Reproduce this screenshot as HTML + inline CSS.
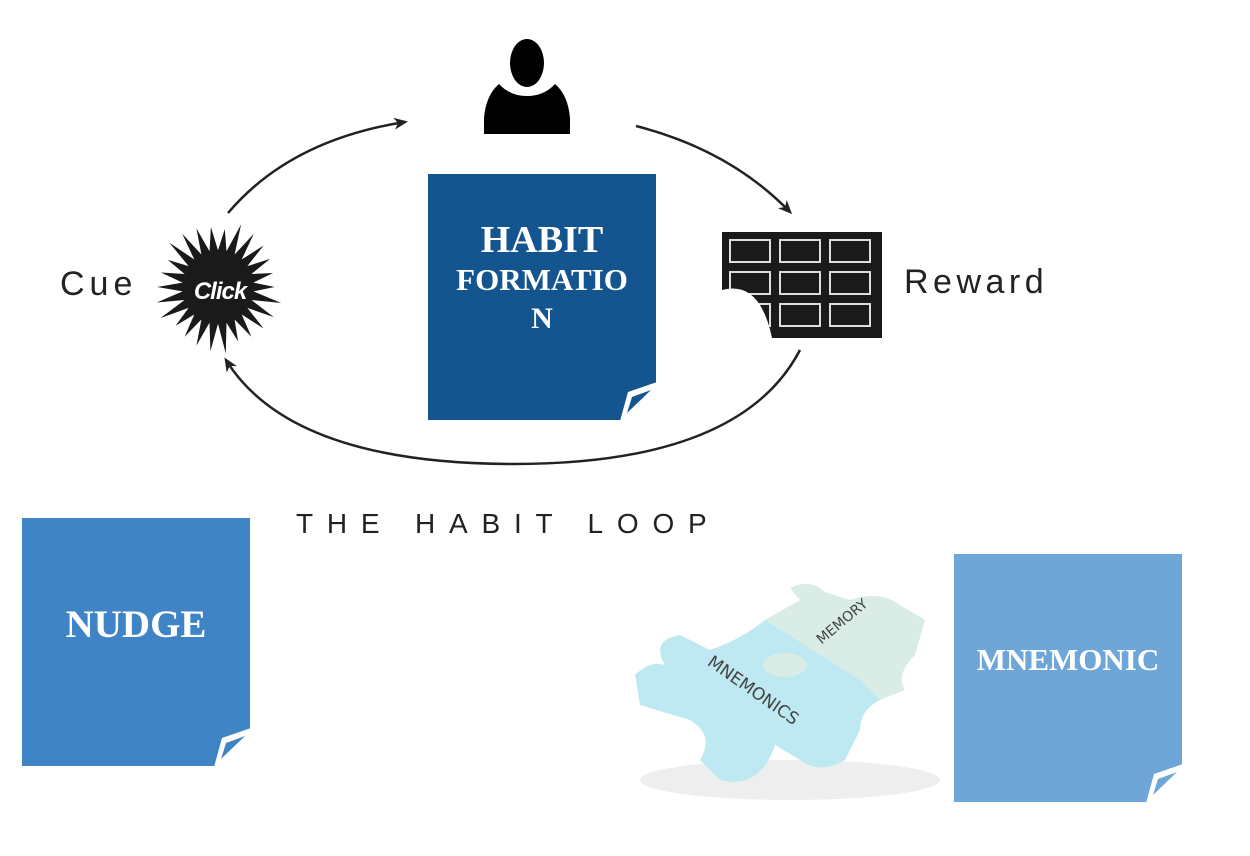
<!DOCTYPE html>
<html><head><meta charset="utf-8"><style>
html,body{margin:0;padding:0;background:#fff;width:1250px;height:856px;overflow:hidden;position:relative;font-family:"Liberation Sans",sans-serif}
.box{position:absolute;color:#fff;font-family:"Liberation Serif",serif;font-weight:bold;text-align:center}
.lbl{position:absolute;color:#222;font-family:"Liberation Sans",sans-serif;font-weight:normal}
</style></head><body>
<svg width="1250" height="856" style="position:absolute;left:0;top:0">
<defs><marker id="ah" markerWidth="14" markerHeight="12" refX="11" refY="6" orient="auto" markerUnits="userSpaceOnUse"><path d="M0,0 L14,6 L0,12 L4,6Z" fill="#222"/></marker></defs>
<g fill="none" stroke="#222" stroke-width="2.5">
<path d="M228,213 Q290,140 405,122" marker-end="url(#ah)"/>
<path d="M636,126 Q730,150 790,212" marker-end="url(#ah)"/>
<path d="M800,350 Q740,465 510,464 Q290,463 226,360" marker-end="url(#ah)"/>
</g>
<ellipse cx="527" cy="63" rx="17" ry="24" fill="#000"/>
<path d="M484,134 L484,118 Q486,95 499,84 Q510,96 527,96 Q544,96 555,84 Q568,95 570,118 L570,134Z" fill="#000"/>
<polygon id="star" fill="#1a1a1a"/>
<text x="220" y="299" font-family="Liberation Sans" font-style="italic" font-weight="bold" font-size="24" fill="#fff" text-anchor="middle" style="letter-spacing:-1px">Click</text>
<rect x="722" y="232" width="160" height="106" fill="#1a1a1a"/>
<g fill="#1a1a1a" stroke="#ddd" stroke-width="2">
<rect x="730" y="240" width="40" height="22"/><rect x="780" y="240" width="40" height="22"/><rect x="830" y="240" width="40" height="22"/>
<rect x="730" y="272" width="40" height="22"/><rect x="780" y="272" width="40" height="22"/><rect x="830" y="272" width="40" height="22"/>
<rect x="730" y="304" width="40" height="22"/><rect x="780" y="304" width="40" height="22"/><rect x="830" y="304" width="40" height="22"/>
</g>
<path d="M722,290 Q760,280 772,338 L722,338Z" fill="#fff"/>
<g>
<ellipse cx="790" cy="780" rx="150" ry="20" fill="#eee"/>
<path d="M765,620 L800,600 L790,588 Q810,578 825,592 L850,600 Q880,590 900,605 L925,620 L915,655 Q895,675 905,690 L880,700 L860,680 L820,660Z" fill="#d9ece6"/>
<path d="M765,620 L860,680 L880,700 Q860,710 860,730 L845,760 Q820,775 800,760 L775,745 Q760,790 720,780 L700,760 Q715,735 690,720 L640,705 L635,675 Q650,660 665,665 Q650,640 680,635 L710,650 Q740,640 765,620Z" fill="#bfe9f2"/>
<ellipse cx="785" cy="665" rx="22" ry="12" fill="#d9ece6"/>
<text x="750" y="695" font-size="17" fill="#444" transform="rotate(35 750 695)" text-anchor="middle" font-family="DejaVu Sans">MNEMONICS</text>
<text x="845" y="625" font-size="14" fill="#444" transform="rotate(-40 845 625)" text-anchor="middle" font-family="DejaVu Sans">MEMORY</text>
</g>
</svg>
<div class="box" style="left:428px;top:174px;width:228px;height:246px;background:#15558f"><div style="margin-top:46px;font-size:38px;line-height:40px">HABIT</div><div style="font-size:31px;line-height:40px">FORMATIO</div><div style="font-size:30px;line-height:38px">N</div></div>
<div class="box" style="left:22px;top:518px;width:228px;height:248px;background:#3f84c4"><div style="margin-top:84px;font-size:39px">NUDGE</div></div>
<div class="box" style="left:954px;top:554px;width:228px;height:248px;background:#6fa6d8"><div style="margin-top:88px;font-size:31px">MNEMONIC</div></div>
<svg width="1250" height="856" style="position:absolute;left:0;top:0">
<path d="M620,421 L628,392 L657,382 L657,421Z" fill="#fff"/><path d="M627,413 L632,397 L651,390Z" fill="#15558f"/>
<path d="M214,767 L222,738 L251,728 L251,767Z" fill="#fff"/><path d="M221,759 L226,743 L245,736Z" fill="#3f84c4"/>
<path d="M1146,803 L1154,774 L1183,764 L1183,803Z" fill="#fff"/><path d="M1153,795 L1158,779 L1177,772Z" fill="#6fa6d8"/>
</svg>
<div class="lbl" style="left:60px;top:265px;font-size:34px;letter-spacing:5px">Cue</div>
<div class="lbl" style="left:904px;top:263px;font-size:34px;letter-spacing:4.5px">Reward</div>
<div class="lbl" style="left:296px;top:508px;font-size:28px;letter-spacing:13.8px">THE HABIT LOOP</div>
<script>
var p=[],cx=218,cy=287,n=26;
for(var i=0;i<n*2;i++){var a=i*Math.PI/n;var r=i%2?34:(54+((i*7)%5)*2);p.push((cx+r*Math.cos(a)*1.05).toFixed(1)+','+(cy+r*Math.sin(a)*1.08).toFixed(1));}
document.getElementById('star').setAttribute('points',p.join(' '));
</script>
</body></html>
